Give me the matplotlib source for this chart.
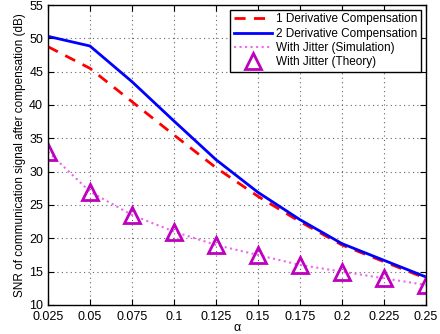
import matplotlib
matplotlib.use("Agg")
import matplotlib.pyplot as plt

alpha = [0.025, 0.05, 0.075, 0.1, 0.125, 0.15, 0.175, 0.2, 0.225, 0.25]
deriv1 = [48.75, 45.5, 40.5, 35.5, 30.6, 26.3, 22.5, 19.0, 16.5, 14.0]
deriv2 = [50.3, 48.85, 43.5, 37.6, 31.8, 26.9, 22.8, 19.2, 16.7, 14.2]
jitter_sim = [33.0, 27.0, 23.5, 21.0, 19.0, 17.5, 16.0, 15.0, 14.0, 13.0]
jitter_theory = [33.0, 27.0, 23.5, 21.0, 19.0, 17.5, 16.0, 15.0, 14.0, 13.0]
xticks = [0.025, 0.05, 0.075, 0.1, 0.125, 0.15, 0.175, 0.2, 0.225, 0.25]
xticklabels = ["0.025", "0.05", "0.075", "0.1", "0.125", "0.15", "0.175", "0.2", "0.225", "0.25"]
yticks = [10, 15, 20, 25, 30, 35, 40, 45, 50, 55]

plt.rcParams['font.family'] = ['Liberation Sans', 'DejaVu Sans']
fig = plt.figure(figsize=(4.4, 3.34), dpi=100)
ax = fig.add_axes([0.109, 0.087, 0.859, 0.898])

ax.plot(alpha, deriv1, '--', color='#ff0000', lw=2, dashes=(4, 3), label='1 Derivative Compensation')
ax.plot(alpha, deriv2, '-', color='#0000ff', lw=2, label='2 Derivative Compensation')
ax.plot(alpha, jitter_sim, ':', color='#ee66ee', lw=1.5, label='With Jitter (Simulation)')
ax.plot(alpha, jitter_theory, '^', color='#bf00bf', ms=12, mfc='none', mew=2, ls='none', label='With Jitter (Theory)')

ax.set_xlim(0.025, 0.25)
ax.set_ylim(10, 55)
ax.set_xticks(xticks)
ax.set_xticklabels(xticklabels)
ax.set_yticks(yticks)
ax.tick_params(direction='in', top=True, right=True, labelsize=9, length=4, width=0.8)
ax.tick_params(axis='x', pad=4.5)
ax.grid(True, color='#666666', lw=0.8, linestyle=(0, (1, 3)))
for s in ax.spines.values():
    s.set_linewidth(1)
ax.set_xlabel('α', fontsize=9, labelpad=-1)
ax.set_ylabel('SNR of communication signal after compensation (dB)', fontsize=8.5, labelpad=2)

leg = ax.legend(loc='upper right', fontsize=8.5, fancybox=False, framealpha=1, edgecolor='black',
                borderaxespad=0.4, handlelength=3.2, labelspacing=0.2, borderpad=0.3, handletextpad=0.4)
leg.get_frame().set_linewidth(1)

fig.savefig('out.png', dpi=100)
